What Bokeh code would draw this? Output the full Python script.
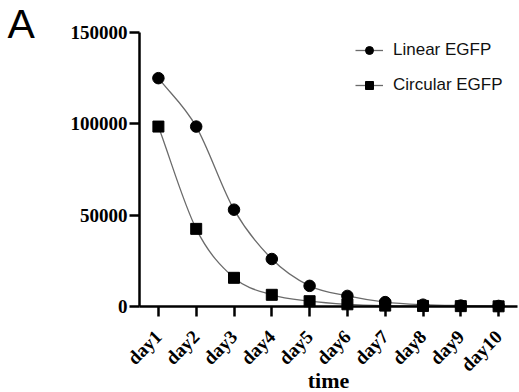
import numpy as np
from math import pi
from bokeh.plotting import figure
from bokeh.models import Range1d, FixedTicker, Label, Legend, LegendItem, BasicTickFormatter
from bokeh.embed import file_html
from bokeh.resources import INLINE

# ---- data ----
days = ["day1", "day2", "day3", "day4", "day5", "day6", "day7", "day8", "day9", "day10"]
day_pos = [1, 2, 3, 4, 5, 6, 7, 8, 9, 10]
linear_egfp = [125000, 98500, 53000, 26000, 11300, 5800, 2400, 1000, 500, 300]
circular_egfp = [98500, 42500, 15700, 6400, 2900, 1200, 500, 300, 200, 100]
y_ticks = [0, 50000, 100000, 150000]
y_min, y_max = 0, 150000
x_lo, x_hi = 0.5, 10.5

# ---- layout (pixels) ----
W, H = 519, 392
AX_LEFT, AX_RIGHT = 139, 517     # pixel ends of the x axis
AX_BOTTOM, AX_TOP = 306, 32      # pixel positions of y_min / y_max

ppx = (AX_RIGHT - AX_LEFT) / (x_hi - x_lo)
ppy = (AX_BOTTOM - AX_TOP) / (y_max - y_min)
x_range = Range1d(x_lo - AX_LEFT / ppx, x_hi + (W - AX_RIGHT) / ppx)
y_range = Range1d(y_min - (H - AX_BOTTOM) / ppy, y_max + AX_TOP / ppy)

p = figure(width=W, height=H, output_backend="svg", toolbar_location=None, title=None,
           x_range=x_range, y_range=y_range,
           min_border=0, min_border_left=0, min_border_right=0, min_border_top=0, min_border_bottom=0)
p.outline_line_color = None
p.xgrid.visible = False
p.ygrid.visible = False
p.background_fill_color = "white"
p.border_fill_color = "white"


def monotone_bezier(xs, ys):
    x = np.asarray(xs, float)
    y = np.asarray(ys, float)
    h = np.diff(x)
    d = np.diff(y) / h
    n = len(x)
    m = np.zeros(n)
    m[0], m[-1] = d[0], d[-1]
    for k in range(1, n - 1):
        m[k] = 0.0 if d[k - 1] * d[k] <= 0 else (d[k - 1] + d[k]) / 2
    for k in range(n - 1):
        if d[k] == 0:
            m[k] = m[k + 1] = 0
            continue
        a, b = m[k] / d[k], m[k + 1] / d[k]
        s = a * a + b * b
        if s > 9:
            t = 3 / np.sqrt(s)
            m[k] = t * a * d[k]
            m[k + 1] = t * b * d[k]
    return dict(x0=x[:-1], y0=y[:-1], x1=x[1:], y1=y[1:],
                cx0=x[:-1] + h / 3, cy0=y[:-1] + m[:-1] * h / 3,
                cx1=x[1:] - h / 3, cy1=y[1:] - m[1:] * h / 3)


line_col = "#6b6b6b"
b1 = p.bezier(**monotone_bezier(day_pos, linear_egfp), line_color=line_col, line_width=1.3)
s1 = p.scatter(day_pos, linear_egfp, marker="circle", size=11.5, fill_color="black", line_color="black")
b2 = p.bezier(**monotone_bezier(day_pos, circular_egfp), line_color=line_col, line_width=1.3)
s2 = p.scatter(day_pos, circular_egfp, marker="square", size=11, fill_color="black", line_color="black")

# axes (drawn through the origin inside the frame)
serif = "Liberation Serif"
ax = p.xaxis[0]
ax.fixed_location = y_min
ax.bounds = (x_lo, x_hi)
ax.ticker = FixedTicker(ticks=day_pos)
ax.major_label_overrides = {d: lab for d, lab in zip(day_pos, days)}
ax.major_label_orientation = pi / 4
ax.major_label_text_font = serif
ax.major_label_text_font_style = "bold"
ax.major_label_text_font_size = "19px"
ax.major_label_text_color = "black"
ax.major_label_standoff = 17
ax.axis_line_width = 2.5
ax.axis_line_color = "black"
ax.major_tick_line_width = 2.5
ax.major_tick_out = 10
ax.major_tick_in = 0
ax.minor_tick_line_color = None

ay = p.yaxis[0]
ay.fixed_location = x_lo
ay.bounds = (y_min, y_max)
ay.ticker = FixedTicker(ticks=y_ticks)
ay.formatter = BasicTickFormatter(use_scientific=False)
ay.major_label_text_font = serif
ay.major_label_text_font_style = "bold"
ay.major_label_text_font_size = "19px"
ay.major_label_text_color = "black"
ay.major_label_standoff = 2
ay.axis_line_width = 2.5
ay.axis_line_color = "black"
ay.major_tick_line_width = 2.5
ay.major_tick_out = 10
ay.major_tick_in = 0
ay.minor_tick_line_color = None

# axis title
p.add_layout(Label(x=(AX_LEFT + AX_RIGHT) / 2, y=H - 380, x_units="screen", y_units="screen", text="time",
                   text_font=serif, text_font_style="bold", text_font_size="22px",
                   text_align="center", text_baseline="middle", text_color="black"))

# panel letter
p.add_layout(Label(x=7, y=H - 23, x_units="screen", y_units="screen", text="A",
                   text_font="Liberation Sans", text_font_size="41px",
                   text_align="left", text_baseline="middle", text_color="black"))

legend = Legend(items=[LegendItem(label="Linear EGFP", renderers=[b1, s1]),
                       LegendItem(label="Circular EGFP", renderers=[b2, s2])],
                location=(355, H - 95),
                label_text_font="Liberation Sans", label_text_font_size="17px",
                label_text_color="#111111",
                glyph_width=28, glyph_height=20, label_height=20, label_standoff=10,
                spacing=15, padding=0, margin=0,
                border_line_color=None, background_fill_alpha=0)
p.add_layout(legend)

open("out.html", "w").write(file_html(p, INLINE))
